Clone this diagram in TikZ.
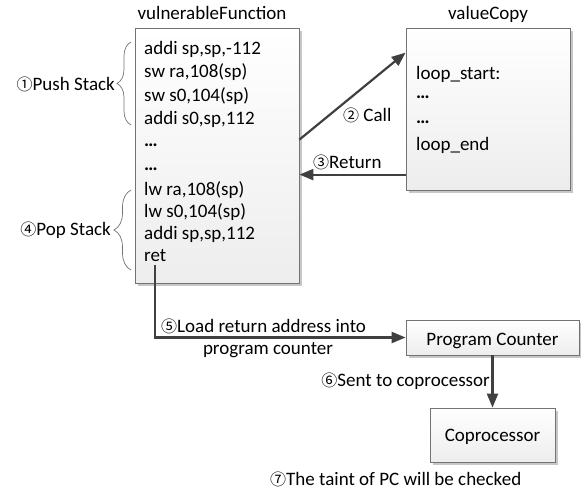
\documentclass[tikz,border=0pt]{standalone}
\usepackage{fontspec}
\setmainfont{Carlito}
\newfontfamily\cjk{Noto Sans CJK SC}
\usetikzlibrary{arrows.meta,shadows,decorations.pathreplacing,calc}

% circled step numbers
\newcommand{\stepnum}[1]{{\cjk\fontsize{16}{18}\selectfont #1}}

\begin{document}
\begin{tikzpicture}[x=1pt,y=-1pt,
  font=\fontsize{19}{22}\selectfont,
  box/.style={draw=black!55, line width=0.8pt, top color=white, bottom color=black!7,
    drop shadow={shadow xshift=2.5pt, shadow yshift=-2.5pt, fill=black!22, opacity=1},
    inner sep=0pt, minimum width=#1},
  box/.default=10pt,
  code/.style={anchor=base west, inner sep=0pt},
  lbl/.style={inner sep=0pt},
  flow/.style={draw=black!75, line width=2.2pt, -{Triangle[length=14pt,width=11pt]}},
  brc/.style={draw=black!55, line width=0.7pt, decorate, decoration={brace, amplitude=#1}},
]
\useasboundingbox (0,0) rectangle (581,491);

% function boxes
\node[box=164pt, minimum height=255pt] (vf) at (217,155.5) {};
\node[box=164pt, minimum height=162pt] (vc) at (488,109) {};
\node[anchor=base, lbl] (vftitle) at (212,19) {vulnerableFunction};
\node[anchor=base, lbl] (vctitle) at (488,19) {valueCopy};

% code of vulnerableFunction
\node[code] (c1) at (144,54) {addi sp,sp,-112};
\node[code] (c2) at (144,77) {sw ra,108(sp)};
\node[code] (c3) at (144,101) {sw s0,104(sp)};
\node[code] (c4) at (144,124) {addi s0,sp,112};
\node[code] (c5) at (144,146) {\textbf{…}};
\node[code] (c6) at (144,170) {\textbf{…}};
\node[code] (c7) at (144,195) {lw ra,108(sp)};
\node[code] (c8) at (144,217) {lw s0,104(sp)};
\node[code] (c9) at (144,239) {addi sp,sp,112};
\node[code] (ret) at (144,261) {ret};

% code of valueCopy
\node[code] (d1) at (416,79) {loop\_start:};
\node[code] (d2) at (416,98) {\textbf{…}};
\node[code] (d3) at (416,123) {\textbf{…}};
\node[code] (d4) at (416,150) {loop\_end};

% stack braces
\draw[brc=14pt] (131,125) -- (131,42);
\draw[brc=17pt] (131,270) -- (131,190);
\node[anchor=base east, lbl] (push) at (115,90) {\stepnum{①}Push Stack};
\node[anchor=base east, lbl] (pop) at (111,235) {\stepnum{④}Pop Stack};

% hardware boxes
\node[box=173pt, minimum height=35pt] (pc) at (492.5,337.5) {};
\node[anchor=base, lbl] (pctext) at (492.5,345) {Program Counter};
\node[box=125pt, minimum height=54pt] (co) at (492.5,435) {};
\node[anchor=base, lbl] (cotext) at (492.5,441) {Coprocessor};

% call / return
\draw[flow] ($(vf.north east)+(0,112)$) -- ($(vc.north west)+(0,25)$);
\node[anchor=base west, lbl] (calllbl) at (343,121) {\stepnum{②} Call};
\draw[flow] ($(vc.north west)+(0,147)$) -- ($(vf.north east)+(0,147)$);
\node[anchor=base west, lbl] (retlbl) at (313,168) {\stepnum{③}Return};

% return address to program counter, then to coprocessor
\draw[flow] ([xshift=11pt,yshift=-4pt]ret.base west) |- (pc.west);
\node[anchor=base west, lbl] (loadlbl) at (161,332) {\stepnum{⑤}Load return address into};
\node[anchor=base, lbl] (loadlbl2) at (268,354) {program counter};
\draw[flow] (pc.south) -- (co.north);
\node[anchor=base east, lbl] (sentlbl) at (490,386) {\stepnum{⑥}Sent to coprocessor};
\node[anchor=base west, lbl] (checklbl) at (270,485) {\stepnum{⑦}The taint of PC will be checked};
\end{tikzpicture}
\end{document}
